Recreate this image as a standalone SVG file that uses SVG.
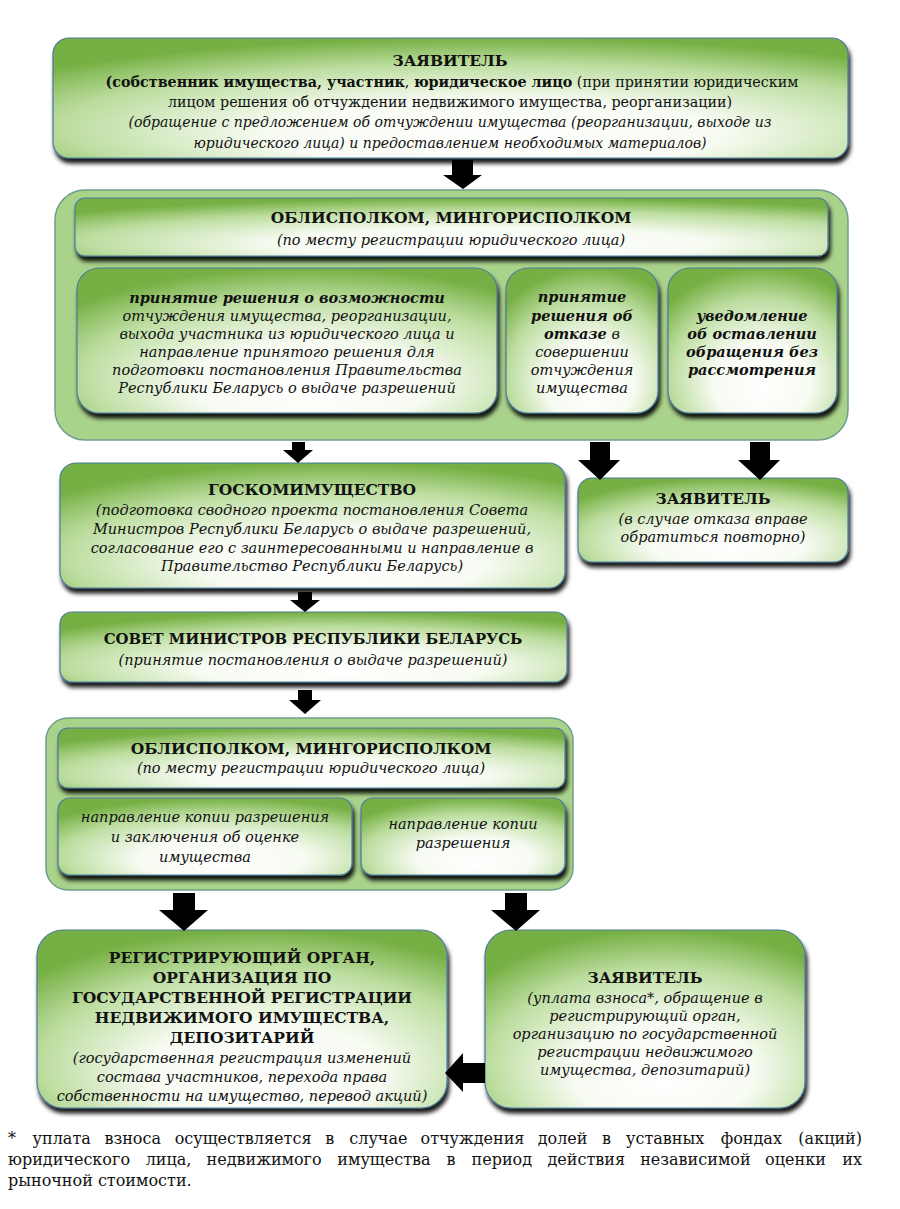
<svg xmlns="http://www.w3.org/2000/svg" width="900" height="1209" viewBox="0 0 900 1209">
<defs>
<radialGradient id="g" cx="0.55" cy="0.72" r="0.72" fx="0.56" fy="0.85">
<stop offset="0" stop-color="#ffffff"/>
<stop offset="0.4" stop-color="#f7fbf2"/>
<stop offset="0.75" stop-color="#bcdd9f"/>
<stop offset="1" stop-color="#76b044"/>
</radialGradient>
<filter id="sh" x="-5%" y="-10%" width="110%" height="130%">
<feGaussianBlur in="SourceAlpha" stdDeviation="2"/>
<feOffset dx="2" dy="5" result="b"/>
<feFlood flood-color="#000" flood-opacity="0.9"/>
<feComposite in2="b" operator="in"/>
<feMerge><feMergeNode/><feMergeNode in="SourceGraphic"/></feMerge>
</filter>
</defs>
<style>
.box{fill:url(#g);stroke:#4d7a9e;stroke-width:1.2;filter:url(#sh)}
.cont{fill:#a9d28b;stroke:#6f9e8c;stroke-width:1.5}
text{font-family:"DejaVu Serif","Liberation Serif",serif;fill:#111;text-anchor:middle}
.t{font-weight:bold;font-size:15.5px}
.n{font-size:14.3px}
.b{font-weight:bold;font-size:14.3px}
.i{font-style:italic;font-size:14.5px}
.bi{font-style:italic;font-weight:bold;font-size:14.5px}
.top .i{font-size:14px}
.fn{font-size:16px;text-anchor:start}
.fn .e{text-anchor:end}
.arr{fill:#000}
</style>

<g id="n-applicant" class="top">
<rect class="box" x="53" y="38" width="795" height="120" rx="16"/>
<text class="t" x="450" y="66">ЗАЯВИТЕЛЬ</text>
<text x="452" y="87"><tspan class="b">(собственник имущества, участник</tspan><tspan class="n">, </tspan><tspan class="b">юридическое лицо</tspan><tspan class="n"> (при принятии юридическим</tspan></text>
<text class="n" x="450" y="107">лицом решения об отчуждении недвижимого имущества, реорганизации)</text>
<text class="i" x="450" y="127">(обращение с предложением об отчуждении имущества (реорганизации, выходе из</text>
<text class="i" x="450" y="148">юридического лица) и предоставлением необходимых материалов)</text>
</g>

<g id="n-oblispolkom1">
<rect class="cont" x="55" y="190" width="793" height="250" rx="30"/>
<g id="n-oblispolkom1-head">
<rect class="box" x="75" y="198" width="753" height="58" rx="10"/>
<text class="t" x="451" y="223">ОБЛИСПОЛКОМ, МИНГОРИСПОЛКОМ</text>
<text class="i" x="451" y="245">(по месту регистрации юридического лица)</text>
</g>
<g id="n-decision">
<rect class="box" x="77" y="268" width="420" height="145" rx="22"/>
<text class="bi" x="287" y="303">принятие решения о возможности</text>
<text class="i" x="287" y="321">отчуждения имущества, реорганизации,</text>
<text class="i" x="287" y="339">выхода участника из юридического лица и</text>
<text class="i" x="287" y="357">направление принятого решения для</text>
<text class="i" x="287" y="375">подготовки постановления Правительства</text>
<text class="i" x="287" y="393">Республики Беларусь о выдаче разрешений</text>
</g>
<g id="n-refusal">
<rect class="box" x="506" y="268" width="152" height="145" rx="22"/>
<text class="bi" x="582" y="302">принятие</text>
<text class="bi" x="582" y="321">решения об</text>
<text x="582" y="339"><tspan class="bi">отказе</tspan><tspan class="i"> в</tspan></text>
<text class="i" x="582" y="357">совершении</text>
<text class="i" x="582" y="375">отчуждения</text>
<text class="i" x="582" y="393">имущества</text>
</g>
<g id="n-notice">
<rect class="box" x="668" y="268" width="169" height="145" rx="22"/>
<text class="bi" x="752" y="321">уведомление</text>
<text class="bi" x="752" y="339">об оставлении</text>
<text class="bi" x="752" y="357">обращения без</text>
<text class="bi" x="752" y="375">рассмотрения</text>
</g>
</g>

<g id="n-goskom">
<rect class="box" x="60" y="463" width="505" height="125" rx="16"/>
<text class="t" x="312" y="495">ГОСКОМИМУЩЕСТВО</text>
<text class="i" x="312" y="515">(подготовка сводного проекта постановления Совета</text>
<text class="i" x="312" y="534">Министров Республики Беларусь о выдаче разрешений,</text>
<text class="i" x="312" y="553">согласование его с заинтересованными и направление в</text>
<text class="i" x="312" y="571">Правительство Республики Беларусь)</text>
</g>

<g id="n-applicant2">
<rect class="box" x="578" y="478" width="270" height="84" rx="14"/>
<text class="t" x="713" y="504">ЗАЯВИТЕЛЬ</text>
<text class="i" x="713" y="524">(в случае отказа вправе</text>
<text class="i" x="713" y="542">обратиться повторно)</text>
</g>

<g id="n-sovmin">
<rect class="box" x="60" y="612" width="507" height="70" rx="12"/>
<text class="t" x="313" y="644" style="font-size:14.9px">СОВЕТ МИНИСТРОВ РЕСПУБЛИКИ БЕЛАРУСЬ</text>
<text class="i" x="313" y="665">(принятие постановления о выдаче разрешений)</text>
</g>

<g id="n-oblispolkom2">
<rect class="cont" x="46" y="718" width="527" height="172" rx="22"/>
<g id="n-oblispolkom2-head">
<rect class="box" x="58" y="728" width="507" height="60" rx="10"/>
<text class="t" x="311" y="754">ОБЛИСПОЛКОМ, МИНГОРИСПОЛКОМ</text>
<text class="i" x="311" y="773">(по месту регистрации юридического лица)</text>
</g>
<g id="n-copy1">
<rect class="box" x="58" y="798" width="294" height="77" rx="12"/>
<text class="i" x="205" y="822">направление копии разрешения</text>
<text class="i" x="205" y="842">и заключения об оценке</text>
<text class="i" x="205" y="862">имущества</text>
</g>
<g id="n-copy2">
<rect class="box" x="361" y="798" width="204" height="77" rx="12"/>
<text class="i" x="463" y="829">направление копии</text>
<text class="i" x="463" y="848">разрешения</text>
</g>
</g>

<g id="n-registry">
<rect class="box" x="37" y="930" width="410" height="178" rx="26"/>
<text class="t" x="242" y="963">РЕГИСТРИРУЮЩИЙ ОРГАН,</text>
<text class="t" x="242" y="983">ОРГАНИЗАЦИЯ ПО</text>
<text class="t" x="242" y="1003">ГОСУДАРСТВЕННОЙ РЕГИСТРАЦИИ</text>
<text class="t" x="242" y="1023">НЕДВИЖИМОГО ИМУЩЕСТВА,</text>
<text class="t" x="242" y="1043">ДЕПОЗИТАРИЙ</text>
<text class="i" x="242" y="1063">(государственная регистрация изменений</text>
<text class="i" x="242" y="1082">состава участников, перехода права</text>
<text class="i" x="242" y="1101">собственности на имущество, перевод акций)</text>
</g>

<g id="n-applicant3">
<rect class="box" x="485" y="930" width="320" height="178" rx="26"/>
<text class="t" x="645" y="983">ЗАЯВИТЕЛЬ</text>
<text class="i" x="645" y="1003">(уплата взноса*, обращение в</text>
<text class="i" x="645" y="1021">регистрирующий орган,</text>
<text class="i" x="645" y="1039">организацию по государственной</text>
<text class="i" x="645" y="1057">регистрации недвижимого</text>
<text class="i" x="645" y="1075">имущества, депозитарий)</text>
</g>

<g id="connectors">
<polygon class="arr" points="452,160 473,160 473,175 482,175 463,189 443,175 452,175"/>
<polygon class="arr" points="292,442 305,442 305,450 313,450 298,463 283,450 292,450"/>
<polygon class="arr" points="590,442 610,442 610,460 620,460 600,480 578,460 590,460"/>
<polygon class="arr" points="750,442 770,442 770,460 780,460 760,480 738,460 750,460"/>
<polygon class="arr" points="298,592 312,592 312,600 320,600 305,612 290,600 298,600"/>
<polygon class="arr" points="298,690 312,690 312,700 321,700 305,714 289,700 298,700"/>
<polygon class="arr" points="173,893 195,893 195,910 208,910 184,931 159,910 173,910"/>
<polygon class="arr" points="505,893 527,893 527,910 540,910 516,931 491,910 505,910"/>
<polygon class="arr" points="485,1063 463,1063 463,1053 445,1073 463,1092 463,1083 485,1083"/>
</g>

<g id="footnote">
<text class="fn" y="1144"><tspan x="8">*</tspan><tspan x="32.6">уплата</tspan><tspan x="104.4">взноса</tspan><tspan x="174.7">осуществляется</tspan><tspan x="325.2">в</tspan><tspan x="349.3">случае</tspan><tspan x="420.5">отчуждения</tspan><tspan x="537.7">долей</tspan><tspan x="602">в</tspan><tspan x="626.1">уставных</tspan><tspan x="720.7">фондах</tspan></text>
<text class="fn" y="1144"><tspan class="e" x="862">(акций)</tspan></text>
<text class="fn" y="1165"><tspan x="8">юридического</tspan><tspan x="145.7">лица,</tspan><tspan x="206.5">недвижимого</tspan><tspan x="337.3">имущества</tspan><tspan x="446.4">в</tspan><tspan x="471.5">период</tspan><tspan x="547.5">действия</tspan><tspan x="640.2">независимой</tspan><tspan x="765.1">оценки</tspan></text>
<text class="fn" y="1165"><tspan class="e" x="862">их</tspan></text>
<text class="fn" x="8" y="1186">рыночной стоимости.</text>
</g>
</svg>
